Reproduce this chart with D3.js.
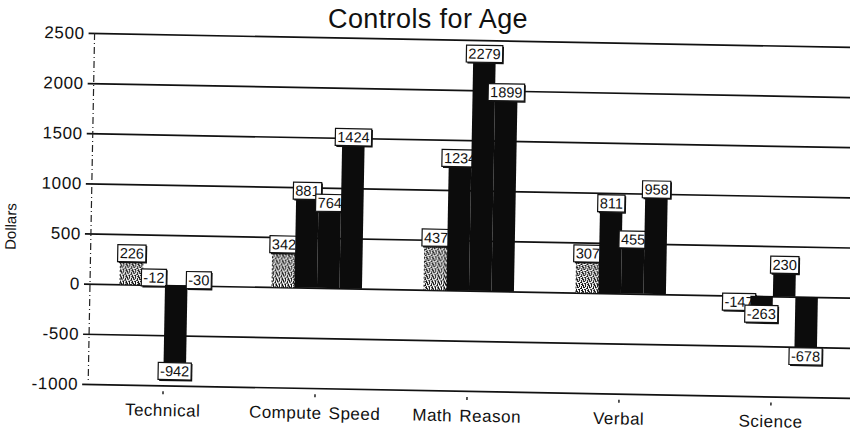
<!DOCTYPE html>
<html>
<head>
<meta charset="utf-8">
<script src="https://cdn.jsdelivr.net/npm/d3@7"></script>
<style>
  body { margin: 0; background: #fff; }
  text { font-family: "Liberation Sans", Arial, Helvetica, sans-serif; fill: #111; }
</style>
</head>
<body>
<script>
// *************** DATA ***************
const categories = ["Technical", "Compute Speed", "Math Reason", "Verbal", "Science"];

const series1 = [226, 342, 437, 307, -147],
      series2 = [-12, 881, 1234, 811, -263],
      series3 = [-942, 764, 2279, 455, 230],
      series4 = [-30, 1424, 1899, 958, -678];

const allSeries = [series1, series2, series3, series4];

const yTicks = [2500, 2000, 1500, 1000, 500, 0, -500, -1000];

// *************** SETUP ***************
const width = 850,
      height = 433;

const svg = d3.select("body").append("svg")
              .attr("width", width)
              .attr("height", height);

const defs = svg.append("defs");

// stippled fill for the first series (scanned halftone look)
const stipple = defs.append("pattern")
                    .attr("id", "stipple")
                    .attr("patternUnits", "userSpaceOnUse")
                    .attr("width", 6)
                    .attr("height", 6);
stipple.append("rect").attr("width", 6).attr("height", 6).attr("fill", "#fff");
[[0,0,2,1],[3,0,1,2],[1,2,2,1],[4,3,2,1],[0,4,1,2],[5,1,1,2],[2,4,2,1],[3,5,1,1],[1,1,1,1],[5,5,1,1]]
  .forEach(([px, py, pw, ph]) => {
    stipple.append("rect")
           .attr("x", px).attr("y", py)
           .attr("width", pw).attr("height", ph)
           .attr("fill", "#111");
  });

// the scan is tilted about one degree
const chart = svg.append("g")
                 .attr("transform", "rotate(1.05, 90, 284)");

const y = d3.scaleLinear()
            .domain([-1000, 2500])
            .range([384, 33]);

const x0 = d3.scaleBand()
             .domain(categories)
             .range([89, 849]);

const x1 = d3.scaleBand()
             .domain(d3.range(allSeries.length))
             .range([31, 121]);

// *************** GRID / AXES ***************
chart.append("g")
     .attr("transform", "translate(84,0)")
     .call(d3.axisLeft(y)
             .tickValues(yTicks)
             .tickSizeInner(-770)
             .tickSizeOuter(0)
             .tickPadding(4)
             .tickFormat(d => String(d)))
     .call(g => g.select(".domain").remove())
     .call(g => g.selectAll(".tick line")
                 .attr("stroke", "#111")
                 .attr("stroke-width", 1.7))
     .call(g => g.selectAll(".tick text")
                 .attr("font-size", "17px")
                 .attr("letter-spacing", "0.6px")
                 .attr("fill", "#111"));

chart.append("line")
     .attr("x1", 90).attr("x2", 90)
     .attr("y1", y(2500))
     .attr("y2", y(-1000) - 2)
     .attr("stroke", "#222")
     .attr("stroke-width", 1.2)
     .attr("stroke-dasharray", "7,3,1,3");

chart.append("g")
     .attr("transform", "translate(0,390)")
     .call(d3.axisBottom(x0)
             .tickSize(3)
             .tickPadding(9.6))
     .call(g => g.select(".domain").remove())
     .call(g => g.selectAll(".tick line")
                 .attr("stroke", "#222")
                 .attr("stroke-width", 1.5))
     .call(g => g.selectAll(".tick text")
                 .attr("font-size", "17px")
                 .attr("letter-spacing", "0.5px")
                 .attr("word-spacing", "2px")
                 .attr("fill", "#111"));

chart.append("text")
     .attr("transform", "translate(15,228) rotate(-90)")
     .attr("text-anchor", "middle")
     .attr("font-size", "15px")
     .text("Dollars");

// *************** BARS + VALUE LABELS ***************
// drawn series by series so later bars cover earlier labels, as in the print
allSeries.forEach((values, i) => {
  const rows = categories.map((c, j) => ({ c, v: values[j] }));
  const bx = d => x0(d.c) + x1(i);

  chart.append("g")
       .selectAll("rect")
       .data(rows)
       .join("rect")
       .attr("x", bx)
       .attr("y", d => y(Math.max(0, d.v)))
       .attr("width", x1.bandwidth())
       .attr("height", d => Math.abs(y(d.v) - y(0)))
       .attr("fill", i === 0 ? "url(#stipple)" : "#0c0c0c")
       .attr("stroke", i === 0 ? "#222" : "none")
       .attr("stroke-width", 1)
       .attr("stroke-dasharray", i === 0 ? "2,2" : null);

  const labels = chart.append("g")
                      .selectAll("g")
                      .data(rows)
                      .join("g")
                      .attr("transform", d => `translate(${bx(d) + x1.bandwidth() / 2},${y(d.v)})`);

  labels.append("rect").attr("class", "shadow").attr("fill", "#111");
  labels.append("rect")
        .attr("class", "box")
        .attr("fill", "#fff")
        .attr("stroke", "#111")
        .attr("stroke-width", 1.2);
  const txt = labels.append("text")
                    .attr("text-anchor", "middle")
                    .attr("y", -3.5)
                    .attr("font-size", "14.5px")
                    .attr("font-weight", "500")
                    .text(d => String(d.v));

  txt.each(function() {
    const w = this.getComputedTextLength() + 4;
    const g = d3.select(this.parentNode);
    g.select("rect.shadow")
     .attr("x", -w / 2 + 1.2).attr("y", -16)
     .attr("width", w).attr("height", 17.5);
    g.select("rect.box")
     .attr("x", -w / 2).attr("y", -17)
     .attr("width", w).attr("height", 17);
  });
});

// *************** TITLE ***************
svg.append("text")
   .attr("x", 428)
   .attr("y", 28)
   .attr("text-anchor", "middle")
   .attr("font-size", "27px")
   .attr("letter-spacing", "0.4px")
   .text("Controls for Age");
</script>
</body>
</html>
